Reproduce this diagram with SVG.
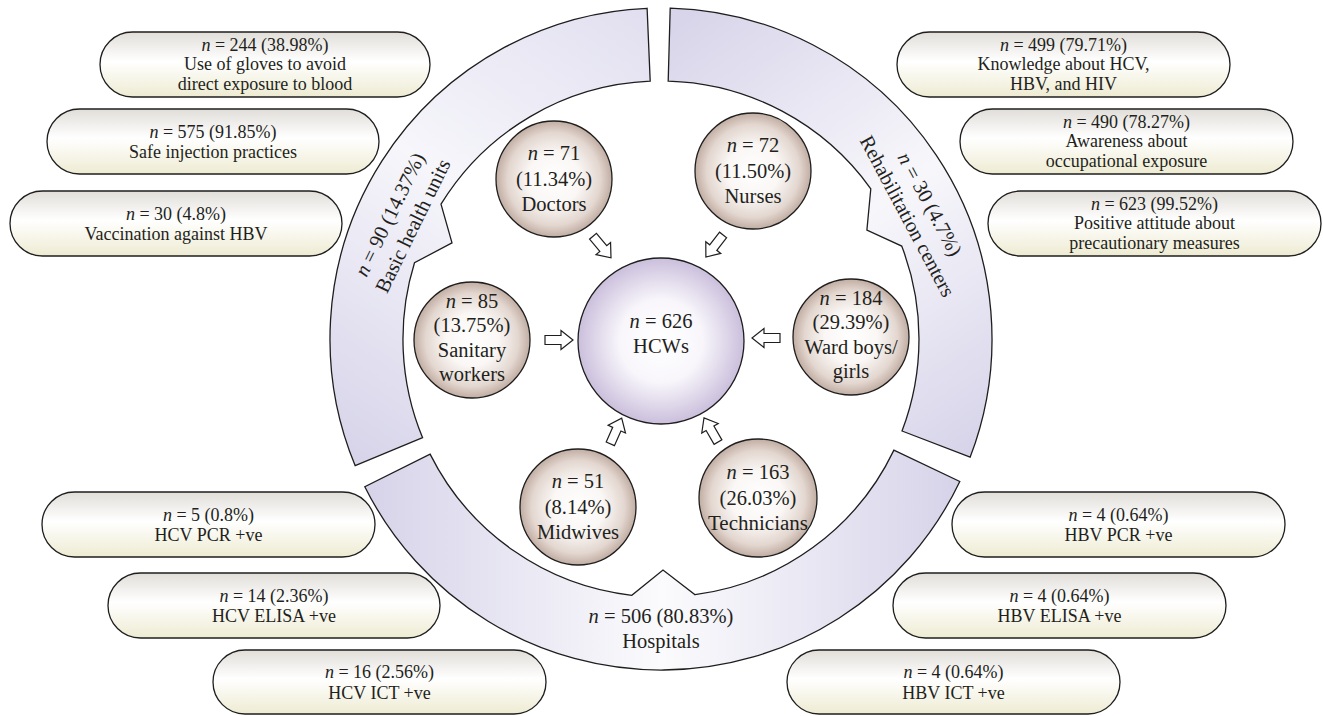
<svg xmlns="http://www.w3.org/2000/svg" width="1323" height="716" viewBox="0 0 1323 716">
<defs>
<style>
text{font-family:"Liberation Serif","Times New Roman",serif;fill:#231f20;text-anchor:middle}
.pt{font-size:18px}
.ct{font-size:20.5px}
.rt{font-size:20.5px}
.pill{fill:url(#gPill);stroke:#1e1e1e;stroke-width:1.3}
.node{fill:url(#gNode);stroke:#1e1e1e;stroke-width:1.3}
.ring{stroke:#1e1e1e;stroke-width:1.3}
.arr{fill:#fff;stroke:#1e1e1e;stroke-width:1.2;stroke-linejoin:miter}
</style>
<linearGradient id="gPill" x1="0" y1="0" x2="0" y2="1">
<stop offset="0" stop-color="#e1ded9"/>
<stop offset="0.45" stop-color="#ffffff"/>
<stop offset="1" stop-color="#eeebd2"/>
</linearGradient>
<radialGradient id="gNode" cx="0.5" cy="0.5" r="0.5">
<stop offset="0" stop-color="#ffffff"/>
<stop offset="0.45" stop-color="#faf7f5"/>
<stop offset="0.8" stop-color="#e3d7d0"/>
<stop offset="1" stop-color="#c1ada2"/>
</radialGradient>
<radialGradient id="gCenter" cx="0.5" cy="0.5" r="0.5">
<stop offset="0" stop-color="#ffffff"/>
<stop offset="0.5" stop-color="#f8f6fb"/>
<stop offset="1" stop-color="#cbbfdc"/>
</radialGradient>
<linearGradient id="gBottom" gradientUnits="userSpaceOnUse" x1="365" y1="0" x2="960" y2="0">
<stop offset="0" stop-color="#d6d3e9"/>
<stop offset="0.5" stop-color="#fbfbfd"/>
<stop offset="1" stop-color="#d6d3e9"/>
</linearGradient>
<linearGradient id="gLeft" gradientUnits="userSpaceOnUse" x1="355" y1="470" x2="650" y2="20">
<stop offset="0" stop-color="#d6d3e9"/>
<stop offset="0.55" stop-color="#f6f6fb"/>
<stop offset="1" stop-color="#e2e0f0"/>
</linearGradient>
<linearGradient id="gRight" gradientUnits="userSpaceOnUse" x1="670" y1="30" x2="970" y2="460">
<stop offset="0" stop-color="#d8d5ea"/>
<stop offset="0.5" stop-color="#f7f7fb"/>
<stop offset="1" stop-color="#d6d3e9"/>
</linearGradient>
<path id="arrow" d="M -14,-4.5 L 2,-4.5 L 2,-9.5 L 14,0 L 2,9.5 L 2,4.5 L -14,4.5 Z"/>
</defs>
<rect width="1323" height="716" fill="#ffffff"/>

<g id="ring-basic-health-units">
<path class="ring" fill="url(#gLeft)" d="M 355.2,465.7 A 331 331 0 0 1 647.1,8.3 L 650.2,81.2 A 258 258 0 0 0 441.0,204.2 L 452.0,242.9 L 414.5,262.7 A 258 258 0 0 0 422.6,437.7 Z"/>
<text class="rt" transform="translate(401,220) rotate(-64)"><tspan x="0" y="-5.5"><tspan font-style="italic">n</tspan> = 90 (14.37%)</tspan><tspan x="0" y="20">Basic health units</tspan></text>
</g>
<g id="ring-rehabilitation-centers">
<path class="ring" fill="url(#gRight)" d="M 670.2,8.1 A 331 331 0 0 1 970.2,457.1 L 902.0,431.0 A 258 258 0 0 0 901.7,246.1 L 866.9,230.0 L 870.8,188.8 A 258 258 0 0 0 668.2,81.1 Z"/>
<text class="rt" transform="translate(919,210) rotate(62)"><tspan x="0" y="-5.5"><tspan font-style="italic">n</tspan> = 30 (4.7%)</tspan><tspan x="0" y="20">Rehabilitation centers</tspan></text>
</g>
<g id="ring-hospitals">
<path class="ring" fill="url(#gBottom)" d="M 959.8,481.5 A 331 331 0 0 1 364.8,486.7 L 430.1,454.1 A 258 258 0 0 0 631.8,595.3 L 663,570 L 695.1,594.7 A 258 258 0 0 0 893.9,450.1 Z"/>
<text class="rt" x="661" y="623"><tspan font-style="italic">n</tspan> = 506 (80.83%)</text>
<text class="rt" x="661" y="648">Hospitals</text>
</g>

<g id="connectors">
<use href="#arrow" class="arr" transform="translate(602,247) rotate(50)"/>
<use href="#arrow" class="arr" transform="translate(714.5,246) rotate(128)"/>
<use href="#arrow" class="arr" transform="translate(559,340)"/>
<use href="#arrow" class="arr" transform="translate(766,338) rotate(180)"/>
<use href="#arrow" class="arr" transform="translate(616,431) rotate(-66)"/>
<use href="#arrow" class="arr" transform="translate(711,430) rotate(-120)"/>
</g>

<g id="node-hcws">
<circle cx="661" cy="341" r="83" fill="url(#gCenter)" stroke="#1e1e1e" stroke-width="1.3"/>
<text class="ct" x="661" y="328"><tspan font-style="italic">n</tspan> = 626</text>
<text class="ct" x="661" y="353">HCWs</text>
</g>
<g id="node-doctors">
<circle class="node" cx="554" cy="179" r="58"/>
<text class="ct" x="554" y="160"><tspan font-style="italic">n</tspan> = 71</text>
<text class="ct" x="554" y="186">(11.34%)</text>
<text class="ct" x="554" y="211">Doctors</text>
</g>
<g id="node-nurses">
<circle class="node" cx="753" cy="171" r="58"/>
<text class="ct" x="753" y="152"><tspan font-style="italic">n</tspan> = 72</text>
<text class="ct" x="753" y="178">(11.50%)</text>
<text class="ct" x="753" y="203">Nurses</text>
</g>
<g id="node-sanitary">
<circle class="node" cx="472" cy="340" r="58"/>
<text class="ct" x="472" y="308"><tspan font-style="italic">n</tspan> = 85</text>
<text class="ct" x="472" y="332">(13.75%)</text>
<text class="ct" x="472" y="357">Sanitary</text>
<text class="ct" x="472" y="381">workers</text>
</g>
<g id="node-wardboys">
<circle class="node" cx="851" cy="337" r="58"/>
<text class="ct" x="851" y="305"><tspan font-style="italic">n</tspan> = 184</text>
<text class="ct" x="851" y="329">(29.39%)</text>
<text class="ct" x="851" y="354">Ward boys/</text>
<text class="ct" x="851" y="378">girls</text>
</g>
<g id="node-midwives">
<circle class="node" cx="578" cy="507" r="58"/>
<text class="ct" x="578" y="488"><tspan font-style="italic">n</tspan> = 51</text>
<text class="ct" x="578" y="514">(8.14%)</text>
<text class="ct" x="578" y="539">Midwives</text>
</g>
<g id="node-technicians">
<circle class="node" cx="758" cy="498" r="59"/>
<text class="ct" x="758" y="479"><tspan font-style="italic">n</tspan> = 163</text>
<text class="ct" x="758" y="505">(26.03%)</text>
<text class="ct" x="758" y="530" textLength="100" lengthAdjust="spacingAndGlyphs">Technicians</text>
</g>

<g id="pill-gloves">
<rect class="pill" x="100" y="32" width="330" height="65" rx="32.5"/>
<text class="pt" x="265" y="50.5"><tspan font-style="italic">n</tspan> = 244 (38.98%)</text>
<text class="pt" x="265" y="70">Use of gloves to avoid</text>
<text class="pt" x="265" y="89.5">direct exposure to blood</text>
</g>
<g id="pill-injection">
<rect class="pill" x="47" y="109" width="332" height="65" rx="32.5"/>
<text class="pt" x="213" y="137.5"><tspan font-style="italic">n</tspan> = 575 (91.85%)</text>
<text class="pt" x="213" y="158">Safe injection practices</text>
</g>
<g id="pill-vaccination">
<rect class="pill" x="10" y="191" width="332" height="65" rx="32.5"/>
<text class="pt" x="176" y="219.5"><tspan font-style="italic">n</tspan> = 30 (4.8%)</text>
<text class="pt" x="176" y="240">Vaccination against HBV</text>
</g>
<g id="pill-knowledge">
<rect class="pill" x="897" y="32" width="333" height="65" rx="32.5"/>
<text class="pt" x="1063.5" y="50.5"><tspan font-style="italic">n</tspan> = 499 (79.71%)</text>
<text class="pt" x="1063.5" y="70">Knowledge about HCV,</text>
<text class="pt" x="1063.5" y="89.5">HBV, and HIV</text>
</g>
<g id="pill-awareness">
<rect class="pill" x="960" y="109" width="333" height="65" rx="32.5"/>
<text class="pt" x="1126.5" y="127.5"><tspan font-style="italic">n</tspan> = 490 (78.27%)</text>
<text class="pt" x="1126.5" y="147">Awareness about</text>
<text class="pt" x="1126.5" y="166.5">occupational exposure</text>
</g>
<g id="pill-attitude">
<rect class="pill" x="988" y="191" width="333" height="65" rx="32.5"/>
<text class="pt" x="1154.5" y="209.5"><tspan font-style="italic">n</tspan> = 623 (99.52%)</text>
<text class="pt" x="1154.5" y="229">Positive attitude about</text>
<text class="pt" x="1154.5" y="248.5">precautionary measures</text>
</g>
<g id="pill-hcv-pcr">
<rect class="pill" x="42" y="492" width="333" height="65" rx="32.5"/>
<text class="pt" x="208.5" y="520.5"><tspan font-style="italic">n</tspan> = 5 (0.8%)</text>
<text class="pt" x="208.5" y="541">HCV PCR +ve</text>
</g>
<g id="pill-hcv-elisa">
<rect class="pill" x="108" y="573" width="332" height="65" rx="32.5"/>
<text class="pt" x="274" y="601.5"><tspan font-style="italic">n</tspan> = 14 (2.36%)</text>
<text class="pt" x="274" y="622">HCV ELISA +ve</text>
</g>
<g id="pill-hcv-ict">
<rect class="pill" x="213" y="650" width="333" height="64" rx="32"/>
<text class="pt" x="379.5" y="678"><tspan font-style="italic">n</tspan> = 16 (2.56%)</text>
<text class="pt" x="379.5" y="698.5">HCV ICT +ve</text>
</g>
<g id="pill-hbv-pcr">
<rect class="pill" x="952" y="492" width="333" height="65" rx="32.5"/>
<text class="pt" x="1118.5" y="520.5"><tspan font-style="italic">n</tspan> = 4 (0.64%)</text>
<text class="pt" x="1118.5" y="541">HBV PCR +ve</text>
</g>
<g id="pill-hbv-elisa">
<rect class="pill" x="893" y="573" width="333" height="65" rx="32.5"/>
<text class="pt" x="1059.5" y="601.5"><tspan font-style="italic">n</tspan> = 4 (0.64%)</text>
<text class="pt" x="1059.5" y="622">HBV ELISA +ve</text>
</g>
<g id="pill-hbv-ict">
<rect class="pill" x="787" y="650" width="333" height="64" rx="32"/>
<text class="pt" x="953.5" y="678"><tspan font-style="italic">n</tspan> = 4 (0.64%)</text>
<text class="pt" x="953.5" y="698.5">HBV ICT +ve</text>
</g>
</svg>
